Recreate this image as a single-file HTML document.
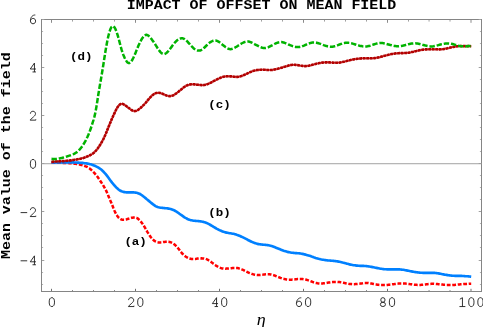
<!DOCTYPE html>
<html><head><meta charset="utf-8"><title>Impact of offset on mean field</title>
<style>
html,body{margin:0;padding:0;background:#fff;}
body{width:483px;height:327px;overflow:hidden;}
svg{display:block;will-change:transform;opacity:0.999;}
text{font-family:"Liberation Mono",monospace;}
.b{font-weight:bold;fill:#000;}
</style></head><body>
<svg width="483" height="327" viewBox="0 0 483 327">
<rect width="483" height="327" fill="#fff"/>
<g shape-rendering="crispEdges">
<rect x="41.5" y="19.5" width="440.0" height="272.0" fill="none" stroke="#858585" stroke-width="1"/>
</g>
<line x1="41.5" y1="163.72" x2="481.5" y2="163.72" stroke="#a2a2a2" stroke-width="1"/>
<path d="M51.5 291.0v-2.2M135.5 291.0v-2.2M219.5 291.0v-2.2M303.5 291.0v-2.2M387.5 291.0v-2.2M471.0 291.0v-2.2" stroke="#707070" stroke-width="1" fill="none"/><path d="M51.5 20.0v2.8M72.5 291.0v-1.0M93.5 291.0v-1.0M114.5 291.0v-1.0M135.5 20.0v2.8M156.5 291.0v-1.0M177.5 291.0v-1.0M198.5 291.0v-1.0M219.5 20.0v2.8M240.5 291.0v-1.0M261.5 291.0v-1.0M282.5 291.0v-1.0M303.5 20.0v2.8M324.5 291.0v-1.0M345.5 291.0v-1.0M366.5 291.0v-1.0M387.5 20.0v2.8M408.5 291.0v-1.0M429.05 291.0v-1.0M450.03 291.0v-1.0M471.0 20.0v2.8" stroke="#8a8a8a" stroke-width="1" fill="none"/><path d="M72.5 20.0v1.6M93.5 20.0v1.6M114.5 20.0v1.6M156.5 20.0v1.6M177.5 20.0v1.6M198.5 20.0v1.6M240.5 20.0v1.6M261.5 20.0v1.6M282.5 20.0v1.6M324.5 20.0v1.6M345.5 20.0v1.6M366.5 20.0v1.6M408.5 20.0v1.6M429.05 20.0v1.6M450.03 20.0v1.6M42.0 260.5h2.3M481.0 260.5h-2.3M42.0 211.5h2.3M481.0 211.5h-2.3M42.0 163.5h2.3M481.0 163.5h-2.3M42.0 115.5h2.3M481.0 115.5h-2.3M42.0 67.5h2.3M481.0 67.5h-2.3M42.0 19.5h2.3M481.0 19.5h-2.3" stroke="#a0a0a0" stroke-width="1" fill="none"/><path d="M42.0 284.5h1.1M481.0 284.5h-1.1M42.0 272.5h1.1M481.0 272.5h-1.1M42.0 247.5h1.1M481.0 247.5h-1.1M42.0 235.5h1.1M481.0 235.5h-1.1M42.0 223.5h1.1M481.0 223.5h-1.1M42.0 199.5h1.1M481.0 199.5h-1.1M42.0 187.5h1.1M481.0 187.5h-1.1M42.0 175.5h1.1M481.0 175.5h-1.1M42.0 151.5h1.1M481.0 151.5h-1.1M42.0 139.5h1.1M481.0 139.5h-1.1M42.0 127.5h1.1M481.0 127.5h-1.1M42.0 103.5h1.1M481.0 103.5h-1.1M42.0 91.5h1.1M481.0 91.5h-1.1M42.0 79.5h1.1M481.0 79.5h-1.1M42.0 55.5h1.1M481.0 55.5h-1.1M42.0 43.5h1.1M481.0 43.5h-1.1M42.0 31.5h1.1M481.0 31.5h-1.1" stroke="#b2b2b2" stroke-width="1" fill="none"/>

<path d="M51.5 162.7L52.5 162.7L53.5 162.7L54.5 162.7L55.5 162.8L56.5 162.8L57.5 162.8L58.5 162.8L59.5 162.8L60.5 162.8L61.5 162.8L62.5 162.8L63.5 162.9L64.5 162.9L65.5 162.9L66.5 163.0L67.5 163.0L68.5 163.1L69.5 163.2L70.5 163.2L71.5 163.3L72.5 163.4L73.5 163.5L74.5 163.7L75.5 163.8L76.5 163.9L77.5 164.1L78.5 164.3L79.5 164.5L80.5 164.7L81.5 164.9L82.5 165.2L83.5 165.5L84.5 165.9L85.5 166.3L86.5 166.7L87.5 167.2L88.5 167.8L89.5 168.4L90.5 169.2L91.5 170.1L92.5 171.1L93.5 172.1L94.5 173.2L95.5 174.3L96.5 175.5L97.5 176.8L98.5 178.2L99.5 179.7L100.5 181.2L101.5 182.7L102.5 184.3L103.5 185.9L104.5 187.6L105.5 189.4L106.5 191.4L107.5 193.7L108.5 196.2L109.5 198.7L110.5 200.9L111.5 203.2L112.5 205.7L113.5 208.3L114.5 210.7L115.5 212.9L116.5 214.7L117.5 216.2L118.5 217.5L119.5 218.4L120.5 219.1L121.5 219.5L122.5 219.7L123.5 219.8L124.5 219.8L125.5 219.6L126.5 219.4L127.5 219.0L128.5 218.7L129.5 218.4L130.5 218.1L131.5 217.8L132.5 217.7L133.5 217.5L134.5 217.5L135.5 217.5L136.5 217.8L137.5 218.3L138.5 219.2L139.5 220.3L140.5 221.3L141.5 222.4L142.5 223.7L143.5 225.2L144.5 226.9L145.5 228.6L146.5 230.4L147.5 232.1L148.5 233.7L149.5 235.2L150.5 236.7L151.5 238.0L152.5 239.1L153.5 240.1L154.5 240.9L155.5 241.5L156.5 241.9L157.5 242.2L158.5 242.4L159.5 242.4L160.5 242.4L161.5 242.3L162.5 242.2L163.5 242.0L164.5 241.9L165.5 241.8L166.5 241.7L167.5 241.7L168.5 241.7L169.5 241.9L170.5 242.2L171.5 242.6L172.5 243.1L173.5 243.8L174.5 244.5L175.5 245.4L176.5 246.5L177.5 247.6L178.5 248.8L179.5 250.1L180.5 251.5L181.5 252.7L182.5 253.8L183.5 254.7L184.5 255.6L185.5 256.4L186.5 257.1L187.5 257.6L188.5 258.1L189.5 258.5L190.5 258.7L191.5 258.9L192.5 259.0L193.5 259.0L194.5 258.9L195.5 258.9L196.5 258.8L197.5 258.6L198.5 258.5L199.5 258.4L200.5 258.4L201.5 258.3L202.5 258.4L203.5 258.4L204.5 258.6L205.5 258.8L206.5 259.2L207.5 259.6L208.5 260.2L209.5 260.8L210.5 261.5L211.5 262.3L212.5 263.0L213.5 263.8L214.5 264.5L215.5 265.2L216.5 265.9L217.5 266.5L218.5 267.1L219.5 267.5L220.5 267.9L221.5 268.2L222.5 268.4L223.5 268.6L224.5 268.6L225.5 268.7L226.5 268.6L227.5 268.6L228.5 268.5L229.5 268.4L230.5 268.3L231.5 268.2L232.5 268.1L233.5 268.0L234.5 268.0L235.5 268.0L236.5 268.0L237.5 268.1L238.5 268.3L239.5 268.6L240.5 268.9L241.5 269.3L242.5 269.7L243.5 270.1L244.5 270.6L245.5 271.1L246.5 271.6L247.5 272.1L248.5 272.6L249.5 273.0L250.5 273.4L251.5 273.8L252.5 274.1L253.5 274.4L254.5 274.7L255.5 274.9L256.5 275.0L257.5 275.1L258.5 275.1L259.5 275.0L260.5 274.9L261.5 274.8L262.5 274.7L263.5 274.6L264.5 274.4L265.5 274.3L266.5 274.2L267.5 274.2L268.5 274.2L269.5 274.2L270.5 274.4L271.5 274.6L272.5 274.8L273.5 275.1L274.5 275.5L275.5 275.8L276.5 276.3L277.5 276.7L278.5 277.1L279.5 277.5L280.5 277.9L281.5 278.2L282.5 278.6L283.5 278.8L284.5 279.1L285.5 279.3L286.5 279.5L287.5 279.6L288.5 279.7L289.5 279.7L290.5 279.7L291.5 279.7L292.5 279.6L293.5 279.6L294.5 279.5L295.5 279.3L296.5 279.2L297.5 279.1L298.5 279.1L299.5 279.0L300.5 279.0L301.5 279.0L302.5 279.1L303.5 279.2L304.5 279.4L305.5 279.6L306.5 279.8L307.5 280.1L308.5 280.4L309.5 280.7L310.5 281.1L311.5 281.5L312.5 281.9L313.5 282.3L314.5 282.6L315.5 282.9L316.5 283.1L317.5 283.3L318.5 283.4L319.5 283.5L320.5 283.5L321.5 283.5L322.5 283.4L323.5 283.3L324.5 283.2L325.5 283.1L326.5 283.0L327.5 282.8L328.5 282.6L329.5 282.5L330.5 282.3L331.5 282.2L332.5 282.1L333.5 282.0L334.5 281.9L335.5 281.9L336.5 281.9L337.5 281.9L338.5 282.0L339.5 282.1L340.5 282.2L341.5 282.4L342.5 282.6L343.5 282.8L344.5 283.0L345.5 283.2L346.5 283.4L347.5 283.6L348.5 283.8L349.5 283.9L350.5 284.0L351.5 284.1L352.5 284.2L353.5 284.2L354.5 284.2L355.5 284.1L356.5 284.0L357.5 283.9L358.5 283.8L359.5 283.7L360.5 283.5L361.5 283.4L362.5 283.3L363.5 283.1L364.5 283.0L365.5 283.0L366.5 283.0L367.5 283.0L368.5 283.1L369.5 283.3L370.5 283.4L371.5 283.6L372.5 283.8L373.5 284.0L374.5 284.2L375.5 284.4L376.5 284.5L377.5 284.7L378.5 284.8L379.5 284.9L380.5 285.0L381.5 285.0L382.5 285.1L383.5 285.1L384.5 285.1L385.5 285.1L386.5 285.0L387.5 284.9L388.5 284.8L389.5 284.7L390.5 284.6L391.5 284.5L392.5 284.3L393.5 284.2L394.5 284.1L395.5 283.9L396.5 283.8L397.5 283.7L398.5 283.6L399.5 283.5L400.5 283.4L401.5 283.4L402.5 283.4L403.5 283.4L404.5 283.5L405.5 283.6L406.5 283.7L407.5 283.8L408.5 283.9L409.5 284.1L410.5 284.2L411.5 284.3L412.5 284.5L413.5 284.6L414.5 284.7L415.5 284.8L416.5 284.8L417.5 284.9L418.5 284.9L419.5 284.9L420.5 284.9L421.5 284.8L422.5 284.7L423.5 284.6L424.5 284.5L425.5 284.4L426.5 284.3L427.5 284.2L428.5 284.1L429.5 284.0L430.5 283.9L431.5 283.8L432.5 283.8L433.5 283.8L434.5 283.9L435.5 283.9L436.5 284.0L437.5 284.1L438.5 284.2L439.5 284.3L440.5 284.4L441.5 284.5L442.5 284.6L443.5 284.7L444.5 284.8L445.5 284.8L446.5 284.9L447.5 284.9L448.5 284.9L449.5 284.9L450.5 285.0L451.5 285.0L452.5 284.9L453.5 284.9L454.5 284.9L455.5 284.8L456.5 284.7L457.5 284.6L458.5 284.5L459.5 284.4L460.5 284.3L461.5 284.3L462.5 284.2L463.5 284.1L464.5 284.0L465.5 283.9L466.5 283.9L467.5 283.8L468.5 283.8L469.5 283.7L470.5 283.7L471.2 283.7" fill="none" stroke="#ff0000" stroke-width="2.5" stroke-dasharray="3.8 1.7" stroke-linejoin="round"/>
<path d="M51.5 162.5L52.5 162.5L53.5 162.5L54.5 162.5L55.5 162.4L56.5 162.4L57.5 162.4L58.5 162.4L59.5 162.4L60.5 162.4L61.5 162.4L62.5 162.4L63.5 162.4L64.5 162.4L65.5 162.4L66.5 162.4L67.5 162.4L68.5 162.4L69.5 162.4L70.5 162.4L71.5 162.4L72.5 162.4L73.5 162.4L74.5 162.5L75.5 162.5L76.5 162.5L77.5 162.6L78.5 162.6L79.5 162.7L80.5 162.8L81.5 162.8L82.5 162.9L83.5 163.0L84.5 163.2L85.5 163.3L86.5 163.4L87.5 163.6L88.5 163.8L89.5 164.1L90.5 164.3L91.5 164.6L92.5 164.9L93.5 165.3L94.5 165.7L95.5 166.1L96.5 166.6L97.5 167.1L98.5 167.7L99.5 168.3L100.5 169.0L101.5 169.8L102.5 170.7L103.5 171.7L104.5 172.8L105.5 173.9L106.5 175.1L107.5 176.4L108.5 177.8L109.5 179.2L110.5 180.6L111.5 181.9L112.5 183.2L113.5 184.3L114.5 185.5L115.5 186.6L116.5 187.7L117.5 188.6L118.5 189.5L119.5 190.2L120.5 190.7L121.5 191.2L122.5 191.6L123.5 191.9L124.5 192.1L125.5 192.3L126.5 192.4L127.5 192.4L128.5 192.4L129.5 192.4L130.5 192.4L131.5 192.4L132.5 192.4L133.5 192.4L134.5 192.5L135.5 192.6L136.5 192.8L137.5 193.0L138.5 193.4L139.5 193.8L140.5 194.3L141.5 195.0L142.5 195.7L143.5 196.5L144.5 197.3L145.5 198.1L146.5 199.0L147.5 199.8L148.5 200.6L149.5 201.4L150.5 202.3L151.5 203.1L152.5 203.9L153.5 204.7L154.5 205.4L155.5 206.1L156.5 206.6L157.5 207.0L158.5 207.3L159.5 207.5L160.5 207.7L161.5 207.8L162.5 207.9L163.5 208.0L164.5 208.1L165.5 208.2L166.5 208.3L167.5 208.4L168.5 208.6L169.5 208.8L170.5 209.0L171.5 209.3L172.5 209.7L173.5 210.1L174.5 210.5L175.5 211.1L176.5 211.7L177.5 212.3L178.5 213.0L179.5 213.8L180.5 214.5L181.5 215.2L182.5 215.9L183.5 216.6L184.5 217.3L185.5 217.9L186.5 218.4L187.5 219.0L188.5 219.4L189.5 219.8L190.5 220.1L191.5 220.3L192.5 220.5L193.5 220.7L194.5 220.8L195.5 220.9L196.5 221.0L197.5 221.0L198.5 221.1L199.5 221.3L200.5 221.4L201.5 221.5L202.5 221.7L203.5 221.9L204.5 222.2L205.5 222.5L206.5 222.9L207.5 223.4L208.5 223.9L209.5 224.4L210.5 225.0L211.5 225.6L212.5 226.2L213.5 226.8L214.5 227.4L215.5 228.0L216.5 228.6L217.5 229.1L218.5 229.7L219.5 230.1L220.5 230.6L221.5 231.0L222.5 231.4L223.5 231.8L224.5 232.1L225.5 232.4L226.5 232.6L227.5 232.8L228.5 233.0L229.5 233.2L230.5 233.3L231.5 233.5L232.5 233.7L233.5 233.8L234.5 234.1L235.5 234.3L236.5 234.7L237.5 235.0L238.5 235.4L239.5 235.8L240.5 236.2L241.5 236.7L242.5 237.1L243.5 237.6L244.5 238.1L245.5 238.6L246.5 239.1L247.5 239.7L248.5 240.2L249.5 240.7L250.5 241.2L251.5 241.7L252.5 242.1L253.5 242.6L254.5 242.9L255.5 243.3L256.5 243.6L257.5 243.9L258.5 244.1L259.5 244.3L260.5 244.4L261.5 244.5L262.5 244.6L263.5 244.7L264.5 244.8L265.5 244.9L266.5 245.0L267.5 245.1L268.5 245.3L269.5 245.5L270.5 245.7L271.5 246.0L272.5 246.3L273.5 246.7L274.5 247.1L275.5 247.5L276.5 247.9L277.5 248.3L278.5 248.7L279.5 249.1L280.5 249.5L281.5 249.9L282.5 250.3L283.5 250.7L284.5 251.0L285.5 251.3L286.5 251.6L287.5 251.9L288.5 252.1L289.5 252.3L290.5 252.5L291.5 252.7L292.5 252.8L293.5 252.9L294.5 253.0L295.5 253.1L296.5 253.1L297.5 253.2L298.5 253.3L299.5 253.4L300.5 253.5L301.5 253.7L302.5 253.9L303.5 254.1L304.5 254.4L305.5 254.6L306.5 254.9L307.5 255.2L308.5 255.5L309.5 255.8L310.5 256.1L311.5 256.5L312.5 256.8L313.5 257.2L314.5 257.5L315.5 257.9L316.5 258.2L317.5 258.5L318.5 258.8L319.5 259.0L320.5 259.3L321.5 259.5L322.5 259.7L323.5 259.8L324.5 260.0L325.5 260.1L326.5 260.2L327.5 260.4L328.5 260.5L329.5 260.5L330.5 260.6L331.5 260.7L332.5 260.8L333.5 260.9L334.5 261.0L335.5 261.1L336.5 261.2L337.5 261.4L338.5 261.6L339.5 261.8L340.5 262.0L341.5 262.2L342.5 262.5L343.5 262.7L344.5 263.0L345.5 263.3L346.5 263.6L347.5 263.8L348.5 264.1L349.5 264.4L350.5 264.6L351.5 264.8L352.5 265.0L353.5 265.2L354.5 265.3L355.5 265.4L356.5 265.6L357.5 265.6L358.5 265.7L359.5 265.8L360.5 265.8L361.5 265.8L362.5 265.9L363.5 265.9L364.5 266.0L365.5 266.0L366.5 266.1L367.5 266.2L368.5 266.4L369.5 266.5L370.5 266.7L371.5 266.9L372.5 267.1L373.5 267.3L374.5 267.5L375.5 267.7L376.5 267.9L377.5 268.1L378.5 268.3L379.5 268.5L380.5 268.7L381.5 268.8L382.5 269.0L383.5 269.1L384.5 269.2L385.5 269.2L386.5 269.3L387.5 269.3L388.5 269.3L389.5 269.3L390.5 269.3L391.5 269.3L392.5 269.3L393.5 269.3L394.5 269.3L395.5 269.3L396.5 269.3L397.5 269.3L398.5 269.3L399.5 269.4L400.5 269.5L401.5 269.6L402.5 269.7L403.5 269.8L404.5 270.0L405.5 270.2L406.5 270.4L407.5 270.6L408.5 270.8L409.5 271.0L410.5 271.2L411.5 271.4L412.5 271.6L413.5 271.8L414.5 272.0L415.5 272.1L416.5 272.3L417.5 272.4L418.5 272.5L419.5 272.6L420.5 272.7L421.5 272.7L422.5 272.8L423.5 272.8L424.5 272.8L425.5 272.8L426.5 272.8L427.5 272.8L428.5 272.8L429.5 272.8L430.5 272.8L431.5 272.8L432.5 272.8L433.5 272.8L434.5 272.9L435.5 273.0L436.5 273.1L437.5 273.2L438.5 273.4L439.5 273.6L440.5 273.8L441.5 274.0L442.5 274.2L443.5 274.4L444.5 274.6L445.5 274.7L446.5 274.9L447.5 275.1L448.5 275.3L449.5 275.4L450.5 275.5L451.5 275.6L452.5 275.7L453.5 275.7L454.5 275.8L455.5 275.8L456.5 275.8L457.5 275.8L458.5 275.8L459.5 275.9L460.5 275.9L461.5 275.9L462.5 276.0L463.5 276.0L464.5 276.1L465.5 276.2L466.5 276.2L467.5 276.3L468.5 276.4L469.5 276.5L470.5 276.6L471.2 276.7" fill="none" stroke="#0080ff" stroke-width="2.65" stroke-linecap="butt" stroke-linejoin="round"/>
<path d="M51.5 161.7L52.5 161.7L53.5 161.6L54.5 161.6L55.5 161.5L56.5 161.5L57.5 161.4L58.5 161.4L59.5 161.3L60.5 161.3L61.5 161.2L62.5 161.1L63.5 161.1L64.5 161.0L65.5 160.9L66.5 160.8L67.5 160.7L68.5 160.6L69.5 160.5L70.5 160.4L71.5 160.3L72.5 160.1L73.5 160.0L74.5 159.8L75.5 159.7L76.5 159.5L77.5 159.3L78.5 159.1L79.5 158.9L80.5 158.7L81.5 158.4L82.5 158.2L83.5 157.9L84.5 157.6L85.5 157.2L86.5 156.8L87.5 156.4L88.5 156.0L89.5 155.5L90.5 155.0L91.5 154.4L92.5 153.8L93.5 153.0L94.5 152.1L95.5 151.1L96.5 150.0L97.5 148.7L98.5 147.3L99.5 145.8L100.5 144.2L101.5 142.5L102.5 140.7L103.5 138.8L104.5 136.7L105.5 134.5L106.5 132.1L107.5 129.6L108.5 127.1L109.5 124.6L110.5 122.2L111.5 119.8L112.5 117.5L113.5 115.3L114.5 113.1L115.5 111.0L116.5 109.0L117.5 107.3L118.5 105.8L119.5 104.8L120.5 104.1L121.5 103.9L122.5 103.9L123.5 104.3L124.5 104.8L125.5 105.5L126.5 106.2L127.5 107.0L128.5 107.8L129.5 108.6L130.5 109.4L131.5 110.0L132.5 110.5L133.5 110.9L134.5 111.1L135.5 111.0L136.5 110.8L137.5 110.3L138.5 109.6L139.5 108.8L140.5 108.0L141.5 107.0L142.5 106.1L143.5 105.1L144.5 104.1L145.5 103.0L146.5 101.8L147.5 100.6L148.5 99.4L149.5 98.2L150.5 97.1L151.5 96.1L152.5 95.2L153.5 94.4L154.5 93.8L155.5 93.3L156.5 93.0L157.5 92.8L158.5 92.8L159.5 92.9L160.5 93.1L161.5 93.4L162.5 93.8L163.5 94.2L164.5 94.7L165.5 95.1L166.5 95.5L167.5 95.8L168.5 96.0L169.5 96.1L170.5 96.1L171.5 95.9L172.5 95.6L173.5 95.2L174.5 94.6L175.5 93.9L176.5 93.2L177.5 92.4L178.5 91.7L179.5 90.8L180.5 90.0L181.5 89.2L182.5 88.4L183.5 87.6L184.5 86.8L185.5 86.2L186.5 85.6L187.5 85.2L188.5 84.8L189.5 84.6L190.5 84.4L191.5 84.3L192.5 84.3L193.5 84.3L194.5 84.4L195.5 84.4L196.5 84.6L197.5 84.7L198.5 84.8L199.5 84.9L200.5 85.0L201.5 85.1L202.5 85.1L203.5 85.1L204.5 84.9L205.5 84.7L206.5 84.5L207.5 84.1L208.5 83.7L209.5 83.2L210.5 82.8L211.5 82.3L212.5 81.8L213.5 81.2L214.5 80.7L215.5 80.2L216.5 79.7L217.5 79.2L218.5 78.7L219.5 78.2L220.5 77.8L221.5 77.4L222.5 77.0L223.5 76.8L224.5 76.6L225.5 76.4L226.5 76.3L227.5 76.3L228.5 76.3L229.5 76.3L230.5 76.4L231.5 76.4L232.5 76.6L233.5 76.7L234.5 76.8L235.5 76.9L236.5 76.9L237.5 76.9L238.5 76.8L239.5 76.6L240.5 76.3L241.5 76.0L242.5 75.6L243.5 75.2L244.5 74.8L245.5 74.3L246.5 73.9L247.5 73.4L248.5 72.9L249.5 72.4L250.5 72.0L251.5 71.6L252.5 71.2L253.5 70.8L254.5 70.6L255.5 70.3L256.5 70.1L257.5 70.0L258.5 69.9L259.5 69.8L260.5 69.8L261.5 69.7L262.5 69.7L263.5 69.7L264.5 69.8L265.5 69.8L266.5 69.9L267.5 70.0L268.5 70.0L269.5 70.0L270.5 70.0L271.5 70.0L272.5 69.9L273.5 69.7L274.5 69.5L275.5 69.3L276.5 69.1L277.5 68.8L278.5 68.6L279.5 68.3L280.5 68.0L281.5 67.7L282.5 67.4L283.5 67.1L284.5 66.8L285.5 66.5L286.5 66.1L287.5 65.9L288.5 65.6L289.5 65.3L290.5 65.1L291.5 65.0L292.5 64.8L293.5 64.8L294.5 64.8L295.5 64.9L296.5 65.0L297.5 65.1L298.5 65.3L299.5 65.5L300.5 65.7L301.5 65.8L302.5 65.9L303.5 66.0L304.5 66.1L305.5 66.1L306.5 66.0L307.5 65.9L308.5 65.8L309.5 65.6L310.5 65.3L311.5 65.1L312.5 64.8L313.5 64.5L314.5 64.3L315.5 64.0L316.5 63.7L317.5 63.5L318.5 63.3L319.5 63.1L320.5 62.9L321.5 62.7L322.5 62.6L323.5 62.5L324.5 62.4L325.5 62.4L326.5 62.3L327.5 62.4L328.5 62.4L329.5 62.4L330.5 62.5L331.5 62.5L332.5 62.6L333.5 62.7L334.5 62.7L335.5 62.7L336.5 62.8L337.5 62.7L338.5 62.7L339.5 62.6L340.5 62.4L341.5 62.2L342.5 62.0L343.5 61.8L344.5 61.6L345.5 61.3L346.5 61.1L347.5 60.8L348.5 60.6L349.5 60.3L350.5 60.1L351.5 59.8L352.5 59.6L353.5 59.4L354.5 59.2L355.5 59.1L356.5 58.9L357.5 58.8L358.5 58.7L359.5 58.6L360.5 58.5L361.5 58.4L362.5 58.4L363.5 58.3L364.5 58.3L365.5 58.3L366.5 58.3L367.5 58.3L368.5 58.3L369.5 58.3L370.5 58.3L371.5 58.3L372.5 58.3L373.5 58.2L374.5 58.1L375.5 58.0L376.5 57.8L377.5 57.6L378.5 57.4L379.5 57.1L380.5 56.9L381.5 56.6L382.5 56.4L383.5 56.1L384.5 55.8L385.5 55.6L386.5 55.3L387.5 55.0L388.5 54.8L389.5 54.5L390.5 54.3L391.5 54.1L392.5 53.9L393.5 53.7L394.5 53.6L395.5 53.4L396.5 53.3L397.5 53.3L398.5 53.2L399.5 53.1L400.5 53.1L401.5 53.1L402.5 53.1L403.5 53.1L404.5 53.0L405.5 53.0L406.5 52.9L407.5 52.8L408.5 52.7L409.5 52.6L410.5 52.4L411.5 52.1L412.5 51.9L413.5 51.7L414.5 51.4L415.5 51.2L416.5 51.0L417.5 50.7L418.5 50.5L419.5 50.3L420.5 50.1L421.5 49.9L422.5 49.7L423.5 49.6L424.5 49.5L425.5 49.4L426.5 49.4L427.5 49.3L428.5 49.3L429.5 49.3L430.5 49.3L431.5 49.3L432.5 49.3L433.5 49.3L434.5 49.3L435.5 49.3L436.5 49.3L437.5 49.3L438.5 49.4L439.5 49.4L440.5 49.3L441.5 49.3L442.5 49.2L443.5 49.1L444.5 48.9L445.5 48.7L446.5 48.5L447.5 48.3L448.5 48.0L449.5 47.8L450.5 47.5L451.5 47.3L452.5 47.1L453.5 46.9L454.5 46.7L455.5 46.6L456.5 46.4L457.5 46.3L458.5 46.2L459.5 46.2L460.5 46.1L461.5 46.1L462.5 46.1L463.5 46.1L464.5 46.1L465.5 46.1L466.5 46.1L467.5 46.1L468.5 46.1L469.5 46.1L470.5 46.2L471.2 46.2" fill="none" stroke="#b30000" stroke-width="2.6" stroke-dasharray="2.7 0.8" stroke-linejoin="round"/>
<path d="M51.5 161.7L52.5 161.7L53.5 161.6L54.5 161.6L55.5 161.5L56.5 161.5L57.5 161.4L58.5 161.4L59.5 161.3L60.5 161.3L61.5 161.2L62.5 161.1L63.5 161.1L64.5 161.0L65.5 160.9L66.5 160.8L67.5 160.7L68.5 160.6L69.5 160.5L70.5 160.4L71.5 160.3L72.5 160.1L73.5 160.0L74.5 159.8L75.5 159.7L76.5 159.5L77.5 159.3L78.5 159.1L79.5 158.9L80.5 158.7L81.5 158.4L82.5 158.2L83.5 157.9L84.5 157.6L85.5 157.2L86.5 156.8L87.5 156.4L88.5 156.0L89.5 155.5L90.5 155.0L91.5 154.4L92.5 153.8L93.5 153.0L94.5 152.1L95.5 151.1L96.5 150.0L97.5 148.7L98.5 147.3L99.5 145.8L100.5 144.2L101.5 142.5L102.5 140.7L103.5 138.8L104.5 136.7L105.5 134.5L106.5 132.1L107.5 129.6L108.5 127.1L109.5 124.6L110.5 122.2L111.5 119.8L112.5 117.5L113.5 115.3L114.5 113.1L115.5 111.0L116.5 109.0L117.5 107.3L118.5 105.8L119.5 104.8L120.5 104.1L121.5 103.9L122.5 103.9L123.5 104.3L124.5 104.8L125.5 105.5L126.5 106.2L127.5 107.0L128.5 107.8L129.5 108.6L130.5 109.4L131.5 110.0L132.5 110.5L133.5 110.9L134.5 111.1L135.5 111.0L136.5 110.8L137.5 110.3L138.5 109.6L139.5 108.8L140.5 108.0L141.5 107.0L142.5 106.1L143.5 105.1L144.5 104.1L145.5 103.0L146.5 101.8L147.5 100.6L148.5 99.4L149.5 98.2L150.5 97.1L151.5 96.1L152.5 95.2L153.5 94.4L154.5 93.8L155.5 93.3L156.5 93.0L157.5 92.8L158.5 92.8L159.5 92.9L160.5 93.1L161.5 93.4L162.5 93.8L163.5 94.2L164.5 94.7L165.5 95.1L166.5 95.5L167.5 95.8L168.5 96.0L169.5 96.1L170.5 96.1L171.5 95.9L172.5 95.6L173.5 95.2L174.5 94.6L175.5 93.9L176.5 93.2L177.5 92.4L178.5 91.7L179.5 90.8L180.5 90.0L181.5 89.2L182.5 88.4L183.5 87.6L184.5 86.8L185.5 86.2L186.5 85.6L187.5 85.2L188.5 84.8L189.5 84.6L190.5 84.4L191.5 84.3L192.5 84.3L193.5 84.3L194.5 84.4L195.5 84.4L196.5 84.6L197.5 84.7L198.5 84.8L199.5 84.9L200.5 85.0L201.5 85.1L202.5 85.1L203.5 85.1L204.5 84.9L205.5 84.7L206.5 84.5L207.5 84.1L208.5 83.7L209.5 83.2L210.5 82.8L211.5 82.3L212.5 81.8L213.5 81.2L214.5 80.7L215.5 80.2L216.5 79.7L217.5 79.2L218.5 78.7L219.5 78.2L220.5 77.8L221.5 77.4L222.5 77.0L223.5 76.8L224.5 76.6L225.5 76.4L226.5 76.3L227.5 76.3L228.5 76.3L229.5 76.3L230.5 76.4L231.5 76.4L232.5 76.6L233.5 76.7L234.5 76.8L235.5 76.9L236.5 76.9L237.5 76.9L238.5 76.8L239.5 76.6L240.5 76.3L241.5 76.0L242.5 75.6L243.5 75.2L244.5 74.8L245.5 74.3L246.5 73.9L247.5 73.4L248.5 72.9L249.5 72.4L250.5 72.0L251.5 71.6L252.5 71.2L253.5 70.8L254.5 70.6L255.5 70.3L256.5 70.1L257.5 70.0L258.5 69.9L259.5 69.8L260.5 69.8L261.5 69.7L262.5 69.7L263.5 69.7L264.5 69.8L265.5 69.8L266.5 69.9L267.5 70.0L268.5 70.0L269.5 70.0L270.5 70.0L271.5 70.0L272.5 69.9L273.5 69.7L274.5 69.5L275.5 69.3L276.5 69.1L277.5 68.8L278.5 68.6L279.5 68.3L280.5 68.0L281.5 67.7L282.5 67.4L283.5 67.1L284.5 66.8L285.5 66.5L286.5 66.1L287.5 65.9L288.5 65.6L289.5 65.3L290.5 65.1L291.5 65.0L292.5 64.8L293.5 64.8L294.5 64.8L295.5 64.9L296.5 65.0L297.5 65.1L298.5 65.3L299.5 65.5L300.5 65.7L301.5 65.8L302.5 65.9L303.5 66.0L304.5 66.1L305.5 66.1L306.5 66.0L307.5 65.9L308.5 65.8L309.5 65.6L310.5 65.3L311.5 65.1L312.5 64.8L313.5 64.5L314.5 64.3L315.5 64.0L316.5 63.7L317.5 63.5L318.5 63.3L319.5 63.1L320.5 62.9L321.5 62.7L322.5 62.6L323.5 62.5L324.5 62.4L325.5 62.4L326.5 62.3L327.5 62.4L328.5 62.4L329.5 62.4L330.5 62.5L331.5 62.5L332.5 62.6L333.5 62.7L334.5 62.7L335.5 62.7L336.5 62.8L337.5 62.7L338.5 62.7L339.5 62.6L340.5 62.4L341.5 62.2L342.5 62.0L343.5 61.8L344.5 61.6L345.5 61.3L346.5 61.1L347.5 60.8L348.5 60.6L349.5 60.3L350.5 60.1L351.5 59.8L352.5 59.6L353.5 59.4L354.5 59.2L355.5 59.1L356.5 58.9L357.5 58.8L358.5 58.7L359.5 58.6L360.5 58.5L361.5 58.4L362.5 58.4L363.5 58.3L364.5 58.3L365.5 58.3L366.5 58.3L367.5 58.3L368.5 58.3L369.5 58.3L370.5 58.3L371.5 58.3L372.5 58.3L373.5 58.2L374.5 58.1L375.5 58.0L376.5 57.8L377.5 57.6L378.5 57.4L379.5 57.1L380.5 56.9L381.5 56.6L382.5 56.4L383.5 56.1L384.5 55.8L385.5 55.6L386.5 55.3L387.5 55.0L388.5 54.8L389.5 54.5L390.5 54.3L391.5 54.1L392.5 53.9L393.5 53.7L394.5 53.6L395.5 53.4L396.5 53.3L397.5 53.3L398.5 53.2L399.5 53.1L400.5 53.1L401.5 53.1L402.5 53.1L403.5 53.1L404.5 53.0L405.5 53.0L406.5 52.9L407.5 52.8L408.5 52.7L409.5 52.6L410.5 52.4L411.5 52.1L412.5 51.9L413.5 51.7L414.5 51.4L415.5 51.2L416.5 51.0L417.5 50.7L418.5 50.5L419.5 50.3L420.5 50.1L421.5 49.9L422.5 49.7L423.5 49.6L424.5 49.5L425.5 49.4L426.5 49.4L427.5 49.3L428.5 49.3L429.5 49.3L430.5 49.3L431.5 49.3L432.5 49.3L433.5 49.3L434.5 49.3L435.5 49.3L436.5 49.3L437.5 49.3L438.5 49.4L439.5 49.4L440.5 49.3L441.5 49.3L442.5 49.2L443.5 49.1L444.5 48.9L445.5 48.7L446.5 48.5L447.5 48.3L448.5 48.0L449.5 47.8L450.5 47.5L451.5 47.3L452.5 47.1L453.5 46.9L454.5 46.7L455.5 46.6L456.5 46.4L457.5 46.3L458.5 46.2L459.5 46.2L460.5 46.1L461.5 46.1L462.5 46.1L463.5 46.1L464.5 46.1L465.5 46.1L466.5 46.1L467.5 46.1L468.5 46.1L469.5 46.1L470.5 46.2L471.2 46.2" fill="none" stroke="#b30000" stroke-width="1.7" stroke-opacity="0.8" stroke-linejoin="round"/>
<path d="M51.5 158.8L52.5 158.9L53.5 159.0L54.5 159.0L55.5 158.9L56.5 158.9L57.5 158.8L58.5 158.6L59.5 158.4L60.5 158.2L61.5 158.0L62.5 157.8L63.5 157.5L64.5 157.2L65.5 156.9L66.5 156.6L67.5 156.3L68.5 155.9L69.5 155.6L70.5 155.3L71.5 154.9L72.5 154.5L73.5 154.1L74.5 153.6L75.5 153.0L76.5 152.4L77.5 151.6L78.5 150.7L79.5 149.7L80.5 148.5L81.5 147.3L82.5 145.8L83.5 144.3L84.5 142.6L85.5 140.9L86.5 138.9L87.5 136.8L88.5 134.5L89.5 132.0L90.5 129.3L91.5 126.3L92.5 123.2L93.5 120.0L94.5 116.4L95.5 112.0L96.5 106.4L97.5 100.0L98.5 93.5L99.5 87.5L100.5 81.7L101.5 76.0L102.5 70.0L103.5 63.7L104.5 57.3L105.5 51.0L106.5 45.2L107.5 39.9L108.5 35.5L109.5 31.8L110.5 28.9L111.5 27.0L112.5 26.2L113.5 26.3L114.5 27.4L115.5 29.2L116.5 31.7L117.5 34.7L118.5 38.2L119.5 41.9L120.5 45.8L121.5 49.4L122.5 52.5L123.5 55.2L124.5 57.6L125.5 59.6L126.5 61.2L127.5 62.4L128.5 63.1L129.5 63.0L130.5 62.3L131.5 61.1L132.5 59.5L133.5 57.5L134.5 55.3L135.5 52.9L136.5 50.4L137.5 48.0L138.5 45.6L139.5 43.4L140.5 41.4L141.5 39.5L142.5 37.9L143.5 36.6L144.5 35.6L145.5 35.0L146.5 34.8L147.5 35.1L148.5 35.7L149.5 36.7L150.5 37.8L151.5 39.1L152.5 40.4L153.5 41.8L154.5 43.3L155.5 44.8L156.5 46.4L157.5 48.0L158.5 49.5L159.5 50.9L160.5 52.1L161.5 53.1L162.5 53.7L163.5 54.1L164.5 54.0L165.5 53.6L166.5 52.9L167.5 52.0L168.5 50.9L169.5 49.6L170.5 48.3L171.5 46.9L172.5 45.5L173.5 44.2L174.5 43.0L175.5 41.9L176.5 40.9L177.5 40.0L178.5 39.3L179.5 38.7L180.5 38.4L181.5 38.2L182.5 38.3L183.5 38.6L184.5 39.1L185.5 39.8L186.5 40.7L187.5 41.7L188.5 42.8L189.5 43.9L190.5 45.1L191.5 46.2L192.5 47.2L193.5 48.2L194.5 49.0L195.5 49.7L196.5 50.2L197.5 50.5L198.5 50.6L199.5 50.6L200.5 50.4L201.5 49.9L202.5 49.3L203.5 48.5L204.5 47.5L205.5 46.5L206.5 45.5L207.5 44.5L208.5 43.6L209.5 42.8L210.5 42.1L211.5 41.5L212.5 41.0L213.5 40.7L214.5 40.5L215.5 40.5L216.5 40.7L217.5 41.1L218.5 41.6L219.5 42.2L220.5 43.0L221.5 43.8L222.5 44.7L223.5 45.5L224.5 46.3L225.5 47.1L226.5 47.8L227.5 48.4L228.5 48.8L229.5 49.1L230.5 49.2L231.5 49.1L232.5 48.8L233.5 48.4L234.5 47.9L235.5 47.3L236.5 46.7L237.5 46.1L238.5 45.4L239.5 44.8L240.5 44.1L241.5 43.5L242.5 43.0L243.5 42.5L244.5 42.1L245.5 41.8L246.5 41.6L247.5 41.5L248.5 41.6L249.5 41.8L250.5 42.1L251.5 42.5L252.5 43.0L253.5 43.5L254.5 44.1L255.5 44.6L256.5 45.2L257.5 45.7L258.5 46.2L259.5 46.7L260.5 47.1L261.5 47.5L262.5 47.8L263.5 48.0L264.5 48.1L265.5 48.1L266.5 47.9L267.5 47.6L268.5 47.2L269.5 46.7L270.5 46.2L271.5 45.7L272.5 45.1L273.5 44.6L274.5 44.0L275.5 43.5L276.5 43.1L277.5 42.7L278.5 42.4L279.5 42.2L280.5 42.1L281.5 42.1L282.5 42.3L283.5 42.5L284.5 42.8L285.5 43.2L286.5 43.6L287.5 44.0L288.5 44.5L289.5 44.9L290.5 45.3L291.5 45.7L292.5 46.1L293.5 46.4L294.5 46.7L295.5 46.9L296.5 47.0L297.5 47.1L298.5 47.1L299.5 47.0L300.5 46.8L301.5 46.6L302.5 46.2L303.5 45.8L304.5 45.4L305.5 44.9L306.5 44.5L307.5 44.0L308.5 43.6L309.5 43.3L310.5 42.9L311.5 42.7L312.5 42.5L313.5 42.4L314.5 42.4L315.5 42.5L316.5 42.7L317.5 43.0L318.5 43.3L319.5 43.6L320.5 43.9L321.5 44.3L322.5 44.7L323.5 45.1L324.5 45.4L325.5 45.8L326.5 46.1L327.5 46.3L328.5 46.5L329.5 46.7L330.5 46.8L331.5 46.8L332.5 46.7L333.5 46.6L334.5 46.3L335.5 46.0L336.5 45.7L337.5 45.3L338.5 44.9L339.5 44.5L340.5 44.1L341.5 43.8L342.5 43.4L343.5 43.2L344.5 43.0L345.5 42.8L346.5 42.7L347.5 42.7L348.5 42.8L349.5 42.9L350.5 43.1L351.5 43.3L352.5 43.6L353.5 43.9L354.5 44.2L355.5 44.5L356.5 44.9L357.5 45.1L358.5 45.4L359.5 45.7L360.5 45.9L361.5 46.1L362.5 46.3L363.5 46.4L364.5 46.5L365.5 46.5L366.5 46.4L367.5 46.3L368.5 46.1L369.5 45.9L370.5 45.6L371.5 45.2L372.5 44.9L373.5 44.5L374.5 44.2L375.5 43.9L376.5 43.6L377.5 43.4L378.5 43.2L379.5 43.1L380.5 43.0L381.5 43.0L382.5 43.1L383.5 43.2L384.5 43.4L385.5 43.6L386.5 43.9L387.5 44.2L388.5 44.5L389.5 44.8L390.5 45.1L391.5 45.3L392.5 45.6L393.5 45.8L394.5 46.0L395.5 46.1L396.5 46.2L397.5 46.3L398.5 46.3L399.5 46.2L400.5 46.1L401.5 45.9L402.5 45.7L403.5 45.5L404.5 45.2L405.5 45.0L406.5 44.7L407.5 44.5L408.5 44.2L409.5 44.0L410.5 43.8L411.5 43.6L412.5 43.5L413.5 43.4L414.5 43.3L415.5 43.3L416.5 43.4L417.5 43.5L418.5 43.7L419.5 43.9L420.5 44.2L421.5 44.5L422.5 44.8L423.5 45.0L424.5 45.3L425.5 45.6L426.5 45.8L427.5 46.0L428.5 46.2L429.5 46.3L430.5 46.4L431.5 46.4L432.5 46.4L433.5 46.3L434.5 46.1L435.5 45.9L436.5 45.7L437.5 45.4L438.5 45.1L439.5 44.8L440.5 44.5L441.5 44.3L442.5 44.1L443.5 43.9L444.5 43.7L445.5 43.6L446.5 43.5L447.5 43.4L448.5 43.4L449.5 43.5L450.5 43.6L451.5 43.8L452.5 44.0L453.5 44.3L454.5 44.6L455.5 44.9L456.5 45.1L457.5 45.4L458.5 45.7L459.5 45.9L460.5 46.1L461.5 46.2L462.5 46.3L463.5 46.4L464.5 46.4L465.5 46.4L466.5 46.3L467.5 46.2L468.5 46.1L469.5 46.0L470.5 45.9L471.2 45.8" fill="none" stroke="#00b300" stroke-width="2.5" stroke-dasharray="5.4 1.9" stroke-linejoin="round"/>

<g fill="none" stroke="#1c1c1c" stroke-width="0.9" stroke-linecap="butt" stroke-linejoin="miter"><g transform="translate(51.85 307.00)"><ellipse cx="0" cy="-4.9" rx="2.65" ry="4.45"/></g><g transform="translate(131.20 307.00)"><path d="M-2.6 -6.9C-2.6 -8.4 -1.5 -9.35 -0.1 -9.35C1.4 -9.35 2.5 -8.3 2.5 -6.9C2.5 -5.7 1.8 -4.9 0.7 -3.9L-2.8 -0.7V-0.45H2.8V-1.3"/></g><g transform="translate(140.30 307.00)"><ellipse cx="0" cy="-4.9" rx="2.65" ry="4.45"/></g><g transform="translate(215.10 307.00)"><path d="M1.45 -0.45V-9.35L-2.75 -3.4H2.95M-0.5 -0.45H2.95"/></g><g transform="translate(224.20 307.00)"><ellipse cx="0" cy="-4.9" rx="2.65" ry="4.45"/></g><g transform="translate(299.00 307.00)"><path d="M2.3 -9.2C-0.3 -9.4 -2.55 -7.1 -2.55 -3.5C-2.55 -1.5 -1.5 -0.45 0 -0.45C1.5 -0.45 2.6 -1.5 2.6 -3.1C2.6 -4.7 1.5 -5.8 0.1 -5.8C-1.2 -5.8 -2.3 -4.9 -2.55 -3.5"/></g><g transform="translate(308.10 307.00)"><ellipse cx="0" cy="-4.9" rx="2.65" ry="4.45"/></g><g transform="translate(382.90 307.00)"><ellipse cx="0" cy="-7.05" rx="2.15" ry="2.3"/><ellipse cx="0" cy="-2.6" rx="2.55" ry="2.15"/></g><g transform="translate(392.00 307.00)"><ellipse cx="0" cy="-4.9" rx="2.65" ry="4.45"/></g><g transform="translate(462.25 307.00)"><path d="M-2.4 -7.8L0.2 -9.3V-0.45M-2.8 -0.45H3.1"/></g><g transform="translate(471.35 307.00)"><ellipse cx="0" cy="-4.9" rx="2.65" ry="4.45"/></g><g transform="translate(480.45 307.00)"><ellipse cx="0" cy="-4.9" rx="2.65" ry="4.45"/></g><g transform="translate(33.00 24.20)"><path d="M2.3 -9.2C-0.3 -9.4 -2.55 -7.1 -2.55 -3.5C-2.55 -1.5 -1.5 -0.45 0 -0.45C1.5 -0.45 2.6 -1.5 2.6 -3.1C2.6 -4.7 1.5 -5.8 0.1 -5.8C-1.2 -5.8 -2.3 -4.9 -2.55 -3.5"/></g><g transform="translate(33.00 72.40)"><path d="M1.45 -0.45V-9.35L-2.75 -3.4H2.95M-0.5 -0.45H2.95"/></g><g transform="translate(33.00 120.60)"><path d="M-2.6 -6.9C-2.6 -8.4 -1.5 -9.35 -0.1 -9.35C1.4 -9.35 2.5 -8.3 2.5 -6.9C2.5 -5.7 1.8 -4.9 0.7 -3.9L-2.8 -0.7V-0.45H2.8V-1.3"/></g><g transform="translate(33.00 168.80)"><ellipse cx="0" cy="-4.9" rx="2.65" ry="4.45"/></g><g transform="translate(23.90 217.00)"><path d="M-3.3 -4.4H3.3"/></g><g transform="translate(33.00 217.00)"><path d="M-2.6 -6.9C-2.6 -8.4 -1.5 -9.35 -0.1 -9.35C1.4 -9.35 2.5 -8.3 2.5 -6.9C2.5 -5.7 1.8 -4.9 0.7 -3.9L-2.8 -0.7V-0.45H2.8V-1.3"/></g><g transform="translate(23.90 265.20)"><path d="M-3.3 -4.4H3.3"/></g><g transform="translate(33.00 265.20)"><path d="M1.45 -0.45V-9.35L-2.75 -3.4H2.95M-0.5 -0.45H2.95"/></g></g>
<text class="b" transform="translate(261.5 8.9) scale(1 0.86)" font-size="15" text-anchor="middle">IMPACT OF OFFSET ON MEAN FIELD</text>
<text class="b" font-size="15" text-anchor="middle" transform="translate(9.6 155.7) rotate(-90) scale(1 0.86)">Mean value of the field</text>
<text class="b" font-size="12" text-anchor="middle" transform="translate(81.2 60) scale(1.04 0.92)">(d)</text>
<text class="b" font-size="12" text-anchor="middle" transform="translate(219.4 108) scale(1.04 0.92)">(c)</text>
<text class="b" font-size="12" text-anchor="middle" transform="translate(219.4 216) scale(1.04 0.92)">(b)</text>
<text class="b" font-size="12" text-anchor="middle" transform="translate(135.6 245) scale(1.04 0.92)">(a)</text>
<text transform="translate(261.2 324.8) scale(1.1 1)" font-size="16.4" text-anchor="middle" style="font-family:'Liberation Serif',serif;font-style:italic;fill:#000">η</text>
</svg>
</body></html>
